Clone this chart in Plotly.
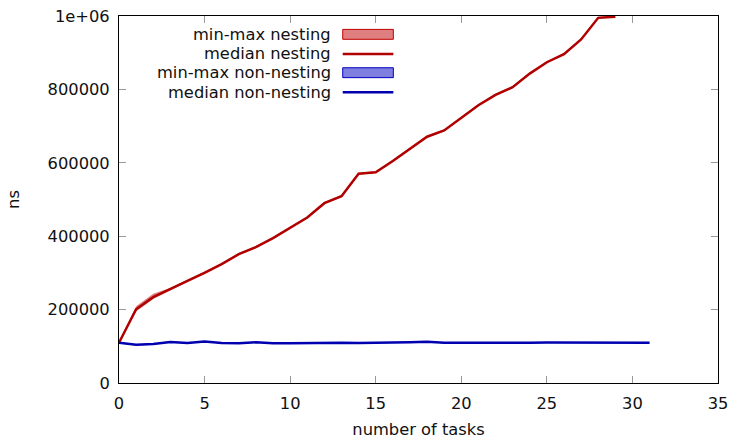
import plotly.graph_objects as go

# ---- data ----
tasks_nesting = list(range(0, 30))
median_nesting = [110000, 201000, 234000, 255000, 278000, 300000, 324000, 351000, 370000, 395000,
                  424000, 451000, 490000, 509000, 570000, 574000, 605000, 638000, 671000, 688000,
                  722000, 757000, 785000, 806000, 843000, 874000, 896000, 936000, 995000, 998000]
min_nesting = [108000, 195000, 229000, 252000, 276000, 298000, 322000, 349000, 368000, 393000,
               422000, 449000, 488000, 507000, 568000, 572000, 603000, 636000, 669000, 686000,
               720000, 755000, 783000, 804000, 841000, 872000, 894000, 934000, 993000, 996000]
max_nesting = [112000, 209000, 243000, 259000, 281000, 303000, 327000, 354000, 373000, 398000,
               427000, 454000, 493000, 512000, 573000, 577000, 608000, 641000, 674000, 691000,
               725000, 760000, 788000, 809000, 846000, 877000, 899000, 939000, 998000, 1001000]

tasks_non = list(range(0, 32))
median_non = [110000, 104000, 106000, 112000, 109000, 113000, 109000, 108000, 111000, 108000,
              108000, 109000, 110000, 110000, 109000, 109000, 110000, 111000, 112500, 110000,
              110000, 109500, 110500, 109500, 110000, 110500, 110500, 109500, 110500, 109500,
              110000, 109500]
min_non = [v - 1500 for v in median_non]
max_non = [v + 1500 for v in median_non]

x_ticks = [0, 5, 10, 15, 20, 25, 30, 35]
y_ticks = [0, 200000, 400000, 600000, 800000, 1000000]
y_tick_text = ["0", "200000", "400000", "600000", "800000", "1e+06"]

legend_labels = ["min-max nesting", "median nesting", "min-max non-nesting", "median non-nesting"]

RED = "#b00000"
BLUE = "#0000b0"
RED_FILL = "rgba(192,0,0,0.5)"
BLUE_FILL = "rgba(0,0,192,0.5)"
FONT = "DejaVu Sans"
FS = 16.3

fig = go.Figure()

# bands
fig.add_trace(go.Scatter(x=tasks_nesting, y=min_nesting, mode="lines", line=dict(width=0),
                         showlegend=False, hoverinfo="skip"))
fig.add_trace(go.Scatter(x=tasks_nesting, y=max_nesting, mode="lines", line=dict(width=0),
                         fill="tonexty", fillcolor=RED_FILL, showlegend=False, name=legend_labels[0]))
fig.add_trace(go.Scatter(x=tasks_nesting, y=median_nesting, mode="lines",
                         line=dict(color=RED, width=2.5), showlegend=False, name=legend_labels[1]))
fig.add_trace(go.Scatter(x=tasks_non, y=min_non, mode="lines", line=dict(width=0),
                         showlegend=False, hoverinfo="skip"))
fig.add_trace(go.Scatter(x=tasks_non, y=max_non, mode="lines", line=dict(width=0),
                         fill="tonexty", fillcolor=BLUE_FILL, showlegend=False, name=legend_labels[2]))
fig.add_trace(go.Scatter(x=tasks_non, y=median_non, mode="lines",
                         line=dict(color=BLUE, width=2.5), showlegend=False, name=legend_labels[3]))

# gnuplot-style legend (text right, sample on the right)
row_y = [0.950, 0.8965, 0.8455, 0.792]
text_x = 0.354
sx0, sx1 = 0.3735, 0.458
for lbl, yy in zip(legend_labels, row_y):
    fig.add_annotation(x=text_x, y=yy, xref="paper", yref="paper", text=lbl, showarrow=False,
                       xanchor="right", yanchor="middle", xshift=2,
                       font=dict(family=FONT, size=FS, color="#111"))
box_h = 0.0135
fig.add_shape(type="rect", xref="paper", yref="paper", x0=sx0, x1=sx1, y0=row_y[0] - box_h, y1=row_y[0] + box_h,
              fillcolor=RED_FILL, line=dict(color="#c00000", width=1))
fig.add_shape(type="line", xref="paper", yref="paper", x0=sx0, x1=sx1, y0=row_y[1], y1=row_y[1],
              line=dict(color=RED, width=2.5))
fig.add_shape(type="rect", xref="paper", yref="paper", x0=sx0, x1=sx1, y0=row_y[2] - box_h, y1=row_y[2] + box_h,
              fillcolor=BLUE_FILL, line=dict(color="#0000c0", width=1))
fig.add_shape(type="line", xref="paper", yref="paper", x0=sx0, x1=sx1, y0=row_y[3], y1=row_y[3],
              line=dict(color=BLUE, width=2.5))

axis_common = dict(showgrid=False, zeroline=False, showline=True, linecolor="#000", linewidth=1,
                   mirror="allticks", ticks="inside", ticklen=7, tickcolor="#999999", tickwidth=1,
                   automargin=False,
                   tickfont=dict(family=FONT, size=FS, color="#111"))

fig.update_layout(
    width=734, height=439,
    margin=dict(l=119, r=16, t=16, b=56),
    plot_bgcolor="white", paper_bgcolor="white",
    showlegend=False,
    xaxis=dict(range=[0, 35], tickvals=x_ticks, ticktext=[str(v) for v in x_ticks],
               title=dict(text="number of tasks", font=dict(family=FONT, size=FS, color="#111"), standoff=15),
               ticklabelstandoff=5, **axis_common),
    yaxis=dict(range=[0, 1000000], tickvals=y_ticks, ticktext=y_tick_text,
               title=dict(text="ns", font=dict(family=FONT, size=FS, color="#111"), standoff=23),
               ticklabelstandoff=5, **axis_common),
)

fig.write_html("out.html", config={"displayModeBar": False},
               post_script="document.body.style.margin='0';document.body.style.overflow='hidden';")
